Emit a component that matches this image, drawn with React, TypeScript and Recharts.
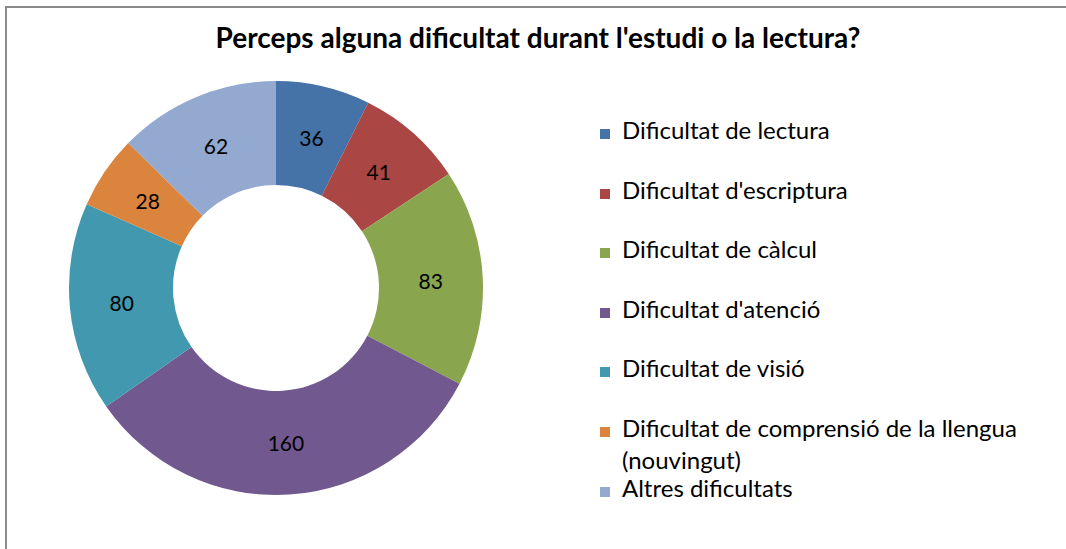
import React from 'react';
import { PieChart, Pie, Cell, Legend } from 'recharts';

const categories = [
  'Dificultat de lectura',
  "Dificultat d'escriptura",
  'Dificultat de càlcul',
  "Dificultat d'atenció",
  'Dificultat de visió',
  'Dificultat de comprensió de la llengua (nouvingut)',
  'Altres dificultats',
];
const counts = [36, 41, 83, 160, 80, 28, 62];
const COLORS = ['#4572A7', '#AA4643', '#89A54E', '#71588F', '#4198AF', '#DB843D', '#93A9CF'];

const TITLE = "Perceps alguna dificultat durant l'estudi o la lectura?";
const FONT = 'Lato, "Noto Sans", sans-serif';

const data = categories.map((name, i) => ({ name, value: counts[i] }));

const RADIAN = Math.PI / 180;

const renderLabel = (props: any) => {
  const { cx, cy, midAngle, innerRadius, outerRadius, value } = props;
  const r = (innerRadius + outerRadius) / 2;
  const x = cx + r * Math.cos(-midAngle * RADIAN);
  const y = cy + r * Math.sin(-midAngle * RADIAN);
  return (
    <text x={x} y={y} textAnchor="middle" dominantBaseline="central" fill="#000" fontSize={21} fontFamily={FONT}>
      {value}
    </text>
  );
};

// keep the original series order (recharts sorts legend items by default)
const renderLegend = () => (
  <div style={{ fontFamily: FONT }}>
    {categories.map((name, i) => (
      <div key={name} style={{ height: 59.6, position: 'relative' }}>
        <span
          style={{
            position: 'absolute',
            left: 0,
            top: 15,
            width: 10,
            height: 10,
            background: COLORS[i],
          }}
        />
        <div style={{ position: 'absolute', left: 22, top: 0, width: 440, fontSize: 24, lineHeight: '32px', color: '#000' }}>
          {name}
        </div>
      </div>
    ))}
  </div>
);

export default function App() {
  return (
    <div style={{ position: 'absolute', left: 0, top: 0, width: 1066, height: 549, overflow: 'hidden', background: '#fff' }}>
      <div style={{ position: 'absolute', left: 0, top: 0 }}>
        <PieChart width={1066} height={549} margin={{ top: 0, right: 0, bottom: 0, left: 0 }}>
          <Pie
            data={data}
            dataKey="value"
            nameKey="name"
            cx={276}
            cy={288}
            innerRadius={103}
            outerRadius={207}
            startAngle={90}
            endAngle={-270}
            stroke="none"
            label={renderLabel}
            labelLine={false}
            isAnimationActive={false}
          >
            {data.map((d, i) => (
              <Cell key={d.name} fill={COLORS[i]} />
            ))}
          </Pie>
          <Legend
            content={renderLegend}
            layout="vertical"
            wrapperStyle={{ position: 'absolute', left: 600, top: 114, width: 466 }}
          />
        </PieChart>
      </div>
      <div
        style={{
          position: 'absolute',
          left: 0,
          width: 1076,
          top: 20,
          textAlign: 'center',
          fontFamily: FONT,
          fontWeight: 'bold',
          fontSize: 28,
          lineHeight: '34px',
          color: '#000',
        }}
      >
        {TITLE}
      </div>
      <div
        style={{
          position: 'absolute',
          left: 5,
          top: 6,
          width: 1080,
          height: 580,
          border: '2px solid #8a8a8a',
          zIndex: 2,
          pointerEvents: 'none',
        }}
      />
    </div>
  );
}
